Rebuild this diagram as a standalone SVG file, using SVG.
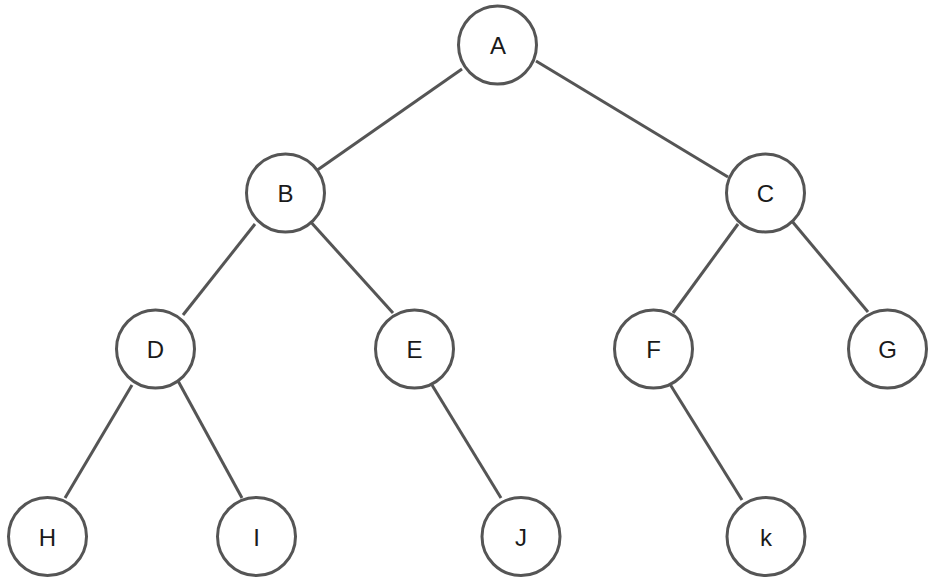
<svg xmlns="http://www.w3.org/2000/svg" width="940" height="582" viewBox="0 0 940 582">
<style>
.n circle{fill:#fff;stroke:#555;stroke-width:3}
.n text{font-family:"Liberation Sans",Arial,sans-serif;font-size:24px;fill:#1a1a1a;text-anchor:middle}
#edges line{stroke:#555;stroke-width:3;stroke-linecap:butt}
</style>
<rect width="940" height="582" fill="#fff"/>
<g id="edges">
<line x1="462" y1="69" x2="316" y2="171"/>
<line x1="536" y1="61" x2="728" y2="177"/>
<line x1="255" y1="224" x2="183" y2="315"/>
<line x1="309" y1="220" x2="393" y2="313"/>
<line x1="738" y1="224" x2="673" y2="313"/>
<line x1="791" y1="220" x2="868" y2="312"/>
<line x1="132" y1="385" x2="65" y2="498"/>
<line x1="177" y1="379" x2="242" y2="498"/>
<line x1="432" y1="385" x2="501" y2="498"/>
<line x1="668" y1="381" x2="742" y2="500"/>
</g>
<g id="A" class="n"><circle cx="497.5" cy="45" r="39"/><text x="498" y="54">A</text></g>
<g id="B" class="n"><circle cx="285.5" cy="193" r="39"/><text x="285.5" y="202">B</text></g>
<g id="C" class="n"><circle cx="765.5" cy="193" r="39"/><text x="765.5" y="202">C</text></g>
<g id="D" class="n"><circle cx="155.5" cy="349" r="39"/><text x="155.5" y="358">D</text></g>
<g id="E" class="n"><circle cx="414.5" cy="349" r="39"/><text x="414.5" y="358">E</text></g>
<g id="F" class="n"><circle cx="653.5" cy="349" r="39"/><text x="653.5" y="358">F</text></g>
<g id="G" class="n"><circle cx="887.5" cy="349" r="39"/><text x="887.5" y="358">G</text></g>
<g id="H" class="n"><circle cx="47.5" cy="536.5" r="39"/><text x="47.5" y="545.5">H</text></g>
<g id="I" class="n"><circle cx="256.5" cy="536.5" r="39"/><text x="256.5" y="545.5">I</text></g>
<g id="J" class="n"><circle cx="521" cy="536.5" r="39"/><text x="521" y="545.5">J</text></g>
<g id="k" class="n"><circle cx="766" cy="536.5" r="39"/><text x="766" y="545.5">k</text></g>
</svg>
